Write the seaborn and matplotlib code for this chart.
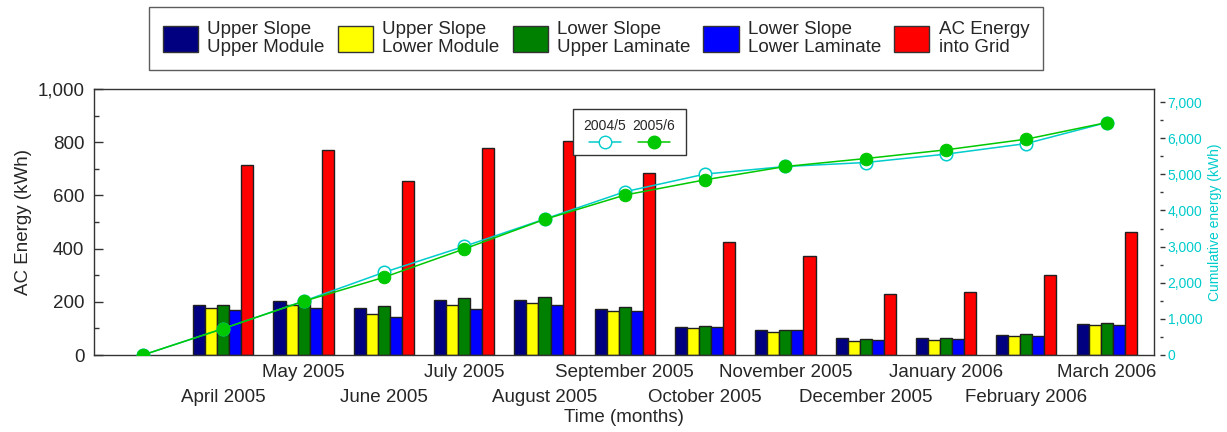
import matplotlib
matplotlib.use("Agg")
import matplotlib.pyplot as plt
from matplotlib.patches import Patch, Rectangle
from matplotlib.lines import Line2D
from matplotlib.ticker import FuncFormatter, MultipleLocator, FixedLocator
import seaborn as sns
import pandas as pd

# ---------------- data ----------------
months = ["March 2005", "April 2005", "May 2005", "June 2005", "July 2005", "August 2005",
          "September 2005", "October 2005", "November 2005", "December 2005",
          "January 2006", "February 2006", "March 2006"]
month_pos = list(range(len(months)))          # 0 = start point (no bars)

series_names = ["Upper Slope\nUpper Module", "Upper Slope\nLower Module",
                "Lower Slope\nUpper Laminate", "Lower Slope\nLower Laminate",
                "AC Energy\ninto Grid"]
series_colors = ["#000080", "#FFFF00", "#008000", "#0000FF", "#FF0000"]

upper_slope_upper_module = [187, 202, 175, 205, 207, 172, 106, 94, 63, 63, 76, 118]
upper_slope_lower_module = [178, 187, 153, 187, 197, 165, 101, 88, 53, 55, 73, 113]
lower_slope_upper_laminate = [187, 209, 184, 216, 219, 179, 110, 95, 59, 63, 78, 121]
lower_slope_lower_laminate = [169, 175, 142, 172, 187, 165, 104, 93, 56, 59, 73, 112]
ac_energy_into_grid = [716, 772, 653, 778, 806, 684, 424, 371, 228, 238, 300, 461]

season_names = ["2004/5", "2005/6"]
cumulative_2004_5 = [0, 732, 1490, 2287, 3005, 3760, 4517, 5006, 5216, 5326, 5558, 5851, 6431]
cumulative_2005_6 = [0, 732, 1486, 2149, 2934, 3751, 4425, 4848, 5216, 5436, 5677, 5972, 6431]

# ---------------- frames ----------------
bar_series = [upper_slope_upper_module, upper_slope_lower_module,
              lower_slope_upper_laminate, lower_slope_lower_laminate, ac_energy_into_grid]
rows = []
for name, vals in zip(series_names, bar_series):
    for p, v in zip(month_pos[1:], vals):
        rows.append({"pos": p, "series": name, "value": v})
bars_df = pd.DataFrame(rows)

cum_df = pd.DataFrame({
    "pos": month_pos * 2,
    "season": [season_names[0]] * len(month_pos) + [season_names[1]] * len(month_pos),
    "value": cumulative_2004_5 + cumulative_2005_6,
})

# ---------------- style ----------------
sns.set_theme(style="white")
plt.rcParams["font.family"] = ["Liberation Sans", "DejaVu Sans"]
plt.rcParams["axes.linewidth"] = 1.0

CYAN = "#00CCCC"
GREEN = "#00C800"
DARK = "#333333"
FS = 13.5

fig = plt.figure(figsize=(12.27, 4.32), dpi=100)
ax = fig.add_axes([94 / 1227, 77 / 432, 1060 / 1227, 266 / 432])

palette = dict(zip(series_names, series_colors))
sns.barplot(data=bars_df, x="pos", y="value", hue="series", hue_order=series_names,
            palette=palette, native_scale=True, width=0.75, dodge=True, gap=0,
            edgecolor="#202020", linewidth=1.0, saturation=1, legend=False, ax=ax,
            errorbar=None)

ax.set_xlim(-0.61, 12.59)
ax.set_ylim(0, 1000)
for s in ax.spines.values():
    s.set_color(DARK)
    s.set_visible(True)

# y-axis (left)
ax.yaxis.set_major_locator(MultipleLocator(200))
ax.yaxis.set_minor_locator(MultipleLocator(100))
ax.yaxis.set_major_formatter(FuncFormatter(lambda v, p: f"{v:,.0f}"))
ax.tick_params(axis="y", which="major", direction="in", length=6.3, width=1,
               color=DARK, labelsize=FS, pad=7, left=True, right=False)
ax.tick_params(axis="y", which="minor", direction="in", length=3.6, width=1,
               color=DARK, left=True, right=False)
ax.set_ylabel("AC Energy (kWh)", fontsize=FS, labelpad=4)

# x-axis: two staggered rows of labels
even = month_pos[0::2]
odd = month_pos[1::2]
ax.xaxis.set_major_locator(FixedLocator(even))
ax.xaxis.set_major_formatter(FuncFormatter(lambda v, p: "" if int(round(v)) == 0 else months[int(round(v))]))
ax.xaxis.set_minor_locator(FixedLocator(odd))
ax.xaxis.set_minor_formatter(FuncFormatter(lambda v, p: months[int(round(v))]))
ax.tick_params(axis="x", which="major", direction="in", length=4.5, width=1,
               color=DARK, labelsize=FS, pad=6.3, bottom=True, top=False)
ax.tick_params(axis="x", which="minor", direction="in", length=4.5, width=1,
               color=DARK, labelsize=FS, pad=24.3, bottom=True, top=False)
ax.set_xlabel("Time (months)", fontsize=FS, labelpad=2)

# ---------------- cumulative lines (right axis) ----------------
ax2 = ax.twinx()
d1 = cum_df[cum_df["season"] == season_names[0]]
d2 = cum_df[cum_df["season"] == season_names[1]]
sns.lineplot(data=d1, x="pos", y="value", color=CYAN, lw=1.1, marker="o",
             markersize=9, markerfacecolor="white", markeredgecolor=CYAN,
             markeredgewidth=1.1, ax=ax2, legend=False)
sns.lineplot(data=d2, x="pos", y="value", color=GREEN, lw=1.1, marker="o",
             markersize=9, markerfacecolor=GREEN, markeredgecolor=GREEN,
             ax=ax2, legend=False)
ax2.set_xlim(-0.61, 12.59)
ax2.set_ylim(0, 7360)
ax2.set_xlabel("")
ax2.yaxis.set_major_locator(MultipleLocator(1000))
ax2.yaxis.set_minor_locator(MultipleLocator(500))
ax2.yaxis.set_major_formatter(FuncFormatter(lambda v, p: f"{v:,.0f}"))
for k in ["left", "top", "bottom"]:
    ax2.spines[k].set_visible(False)
ax2.spines["right"].set_position(("outward", 4.3))
ax2.spines["right"].set_visible(False)
ax2.tick_params(axis="y", which="major", direction="out", length=3.6, width=1,
                color=DARK, labelcolor=CYAN, labelsize=10, pad=2,
                right=True, left=False)
ax2.tick_params(axis="y", which="minor", direction="out", length=2.5, width=1,
                color=DARK, right=True, left=False)
ax2.set_ylabel("Cumulative energy (kWh)", fontsize=10, color=CYAN, labelpad=4)

# inner legend (labels above handles)
box = Rectangle((0.4516, 0.752), 0.1069, 0.1717, transform=ax2.transAxes,
                facecolor="white", edgecolor=DARK, lw=1.0, zorder=10)
ax2.add_patch(box)
ax2.text(0.482, 0.861, season_names[0], transform=ax2.transAxes, ha="center",
         va="center", fontsize=10, zorder=11)
ax2.text(0.528, 0.861, season_names[1], transform=ax2.transAxes, ha="center",
         va="center", fontsize=10, zorder=11)
ax2.add_line(Line2D([0.467, 0.497], [0.80, 0.80], transform=ax2.transAxes, color=CYAN,
                    lw=1.1, zorder=11))
ax2.add_line(Line2D([0.482], [0.80], transform=ax2.transAxes, color=CYAN, marker="o",
                    markersize=9, markerfacecolor="white", markeredgecolor=CYAN, zorder=12))
ax2.add_line(Line2D([0.513, 0.543], [0.80, 0.80], transform=ax2.transAxes, color=GREEN,
                    lw=1.1, zorder=11))
ax2.add_line(Line2D([0.528], [0.80], transform=ax2.transAxes, color=GREEN, marker="o",
                    markersize=9, markerfacecolor=GREEN, markeredgecolor=GREEN, zorder=12))

# top legend
handles = [Patch(facecolor=c, edgecolor=DARK, lw=1.0) for c in series_colors]
leg = fig.legend(handles, series_names, loc="upper center", bbox_to_anchor=(0.4858, 0.983),
                 ncol=5, fontsize=FS, frameon=True, fancybox=False, edgecolor=DARK,
                 handlelength=1.87, handleheight=1.81, handletextpad=0.5,
                 columnspacing=0.7, borderpad=0.72, borderaxespad=0)
leg.get_frame().set_linewidth(1.0)
for t in leg.get_texts():
    t.set_linespacing(1.09)

fig.savefig("out.png", dpi=100)
